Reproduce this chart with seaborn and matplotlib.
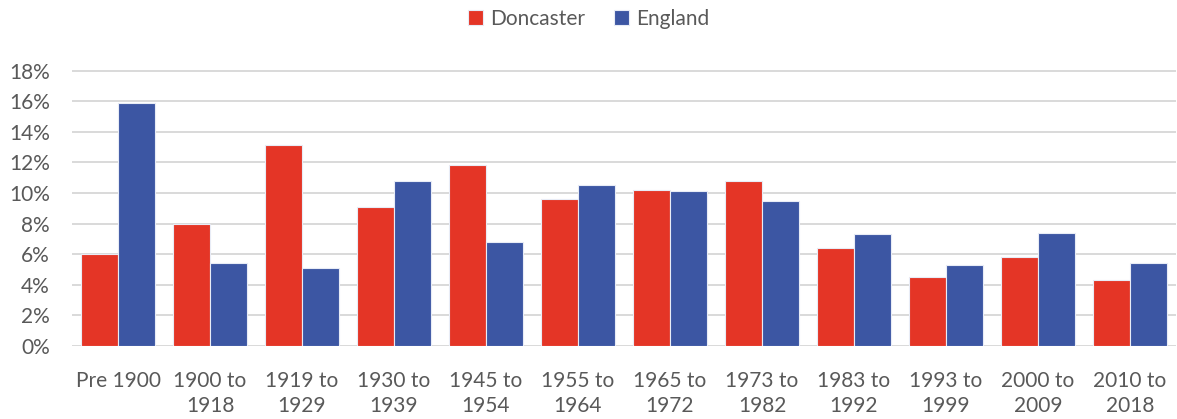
import pandas as pd
import matplotlib.pyplot as plt
import seaborn as sns
from matplotlib.ticker import PercentFormatter

# === Data ===
periods = ["Pre 1900", "1900 to\n1918", "1919 to\n1929", "1930 to\n1939",
           "1945 to\n1954", "1955 to\n1964", "1965 to\n1972", "1973 to\n1982",
           "1983 to\n1992", "1993 to\n1999", "2000 to\n2009", "2010 to\n2018"]
doncaster = [6.0, 8.0, 13.1, 9.1, 11.8, 9.6, 10.2, 10.8, 6.4, 4.5, 5.8, 4.3]
england = [15.9, 5.4, 5.1, 10.8, 6.8, 10.5, 10.1, 9.5, 7.3, 5.3, 7.4, 5.4]

df = pd.DataFrame({
    "Period": periods * 2,
    "Area": ["Doncaster"] * len(periods) + ["England"] * len(periods),
    "Share": doncaster + england,
})

# === Style ===
sns.set_theme(style="white")
plt.rcParams["font.family"] = ["Lato", "DejaVu Sans"]
text_col = "#595959"
palette = {"Doncaster": "#E43526", "England": "#3C56A3"}

fig = plt.figure(figsize=(11.77, 4.19), dpi=100)
ax = fig.add_axes([72 / 1177, 1 - 346 / 419, 1104 / 1177, 275.5 / 419])

sns.barplot(data=df, x="Period", y="Share", hue="Area", palette=palette,
            width=0.8, edgecolor="#E8ECF6", linewidth=0.8, saturation=1,
            ax=ax, zorder=3)

# === Axes formatting ===
ax.set_ylim(0, 18)
ax.set_yticks(range(0, 19, 2))
ax.yaxis.set_major_formatter(PercentFormatter(decimals=0))
ax.grid(axis="y", color="#D9D9D9", linewidth=1.4, zorder=0)
ax.set_xlim(-0.5, len(periods) - 0.5)
for s in ax.spines.values():
    s.set_visible(False)
ax.set_xlabel("")
ax.set_ylabel("")
ax.tick_params(axis="both", length=0, labelsize=15, labelcolor=text_col)
ax.tick_params(axis="y", pad=16)
ax.tick_params(axis="x", pad=18)
for lbl in ax.get_xticklabels():
    lbl.set_linespacing(1.3)

# legend at the top
handles, labels = ax.get_legend_handles_labels()
ax.get_legend().remove()
fig.legend(handles, labels, loc="center", bbox_to_anchor=(0.5, 1 - 19 / 419),
           ncol=2, frameon=False, fontsize=15, labelcolor=text_col,
           handlelength=0.7, handleheight=0.7, handletextpad=0.35,
           columnspacing=1.4)

plt.savefig("out.png", dpi=100)
plt.close()
